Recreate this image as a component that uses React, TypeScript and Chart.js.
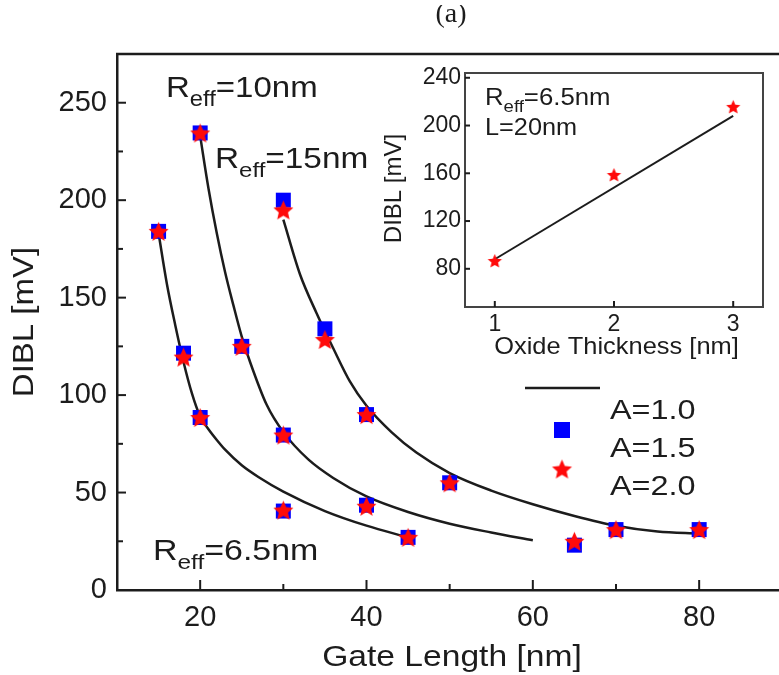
import React, { useEffect, useRef } from "react";
import { Chart, registerables } from "chart.js";

Chart.register(...registerables);

const FONT = "'Liberation Sans', Arial, Helvetica, sans-serif";
const SERIF = "'Liberation Serif', 'Times New Roman', serif";
const INK = "#1c1c1c";
const BLUE = "#0000ff";
const RED = "#ff0a0a";

// ---- main panel: DIBL [mV] versus gate length [nm] ----
const xTickLabels = [20, 40, 60, 80];
const yTickLabels = [0, 50, 100, 150, 200, 250];

// R_eff = 6.5 nm
const lengths65 = [15, 18, 20, 30, 45];
const dibl65A15 = [184, 121.5, 88.5, 40.5, 27];
const dibl65A20 = [184, 119.5, 88.5, 41, 27];
// R_eff = 10 nm
const lengths10 = [20, 25, 30, 40, 65];
const dibl10A15 = [234.5, 125, 79.5, 43.5, 23];
const dibl10A20 = [234.5, 125, 79.5, 43, 25];
// R_eff = 15 nm
const lengths15 = [30, 35, 40, 50, 70, 80];
const dibl15A15 = [200, 134, 90, 55, 31, 31];
const dibl15A20 = [195, 128.5, 90, 55, 31, 31];

// A = 1.0 model curves
const curve65L = [15, 16, 17, 18, 19, 20, 21, 22, 23, 25, 27, 30, 35, 40, 45];
const curve65D = [183, 157, 136, 117, 101, 89, 82.5, 77, 72, 64, 58, 50.5, 40.5, 33, 27];
const curve10L = [20, 21, 22, 23, 24, 25, 26, 28, 30, 33, 36, 40, 45, 50, 55, 60];
const curve10D = [233, 206, 183, 163, 146, 130, 117, 95, 81, 67, 57.5, 48, 40, 34, 29.5, 25.5];
const curve15L = [30, 32, 34, 36, 38, 40, 43, 46, 50, 55, 60, 65, 70, 75, 80];
const curve15D = [190, 162, 142, 124, 107, 94.5, 81, 70.5, 60, 51, 44, 38, 33, 30, 29];

// ---- inset: DIBL versus oxide thickness (R_eff = 6.5 nm, L = 20 nm) ----
const oxideTicks = [1, 2, 3];
const insetYTicks = [80, 120, 160, 200, 240];
const oxideT = [1, 2, 3];
const oxideDibl = [87, 159, 216];
const oxideFitT = [1, 3];
const oxideFitD = [88, 208];

const pts = (xs: number[], ys: number[]) => xs.map((x, i) => ({ x, y: ys[i] }));

function starCanvas(outer: number, color: string) {
  const inner = outer * 0.46;
  const size = Math.ceil(outer * 2 + 2);
  const c = document.createElement("canvas");
  c.width = size;
  c.height = size;
  const g = c.getContext("2d")!;
  g.fillStyle = color;
  g.beginPath();
  for (let i = 0; i < 10; i++) {
    const r = i % 2 === 0 ? outer : inner;
    const a = -Math.PI / 2 + (i * Math.PI) / 5;
    const px = size / 2 + r * Math.cos(a);
    const py = size / 2 + 1 + r * Math.sin(a);
    if (i === 0) g.moveTo(px, py);
    else g.lineTo(px, py);
  }
  g.closePath();
  g.fill();
  return c;
}

type TextOpt = {
  align?: CanvasTextAlign;
  baseline?: CanvasTextBaseline;
  sx?: number;
  rot?: number;
  family?: string;
};

function text(ctx: CanvasRenderingContext2D, s: string, x: number, y: number, size: number, o: TextOpt = {}) {
  ctx.save();
  ctx.translate(x, y);
  if (o.rot) ctx.rotate(o.rot);
  ctx.scale(o.sx ?? 1, 1);
  ctx.font = `${size}px ${o.family ?? FONT}`;
  ctx.textAlign = o.align ?? "left";
  ctx.textBaseline = o.baseline ?? "alphabetic";
  ctx.fillStyle = INK;
  ctx.fillText(s, 0, 0);
  ctx.restore();
}

// "R" with subscript "eff" followed by the rest of the label
function reff(ctx: CanvasRenderingContext2D, x: number, y: number, size: number, rest: string, sx: number) {
  ctx.save();
  ctx.translate(x, y);
  ctx.scale(sx, 1);
  ctx.fillStyle = INK;
  ctx.textAlign = "left";
  ctx.textBaseline = "alphabetic";
  ctx.font = `${size}px ${FONT}`;
  ctx.fillText("R", 0, 0);
  let w = ctx.measureText("R").width;
  ctx.font = `${size * 0.72}px ${FONT}`;
  ctx.fillText("eff", w, size * 0.3);
  w += ctx.measureText("eff").width;
  ctx.font = `${size}px ${FONT}`;
  ctx.fillText(rest, w, 0);
  ctx.restore();
}

function seg(ctx: CanvasRenderingContext2D, x1: number, y1: number, x2: number, y2: number) {
  ctx.beginPath();
  ctx.moveTo(x1, y1);
  ctx.lineTo(x2, y2);
  ctx.stroke();
}

export default function App() {
  const mainRef = useRef<HTMLCanvasElement>(null);
  const insetRef = useRef<HTMLCanvasElement>(null);

  useEffect(() => {
    const bigStar = starCanvas(10.5, RED);
    const smallStar = starCanvas(7.5, RED);

    const curveStyle = {
      showLine: true,
      borderColor: INK,
      borderWidth: 2.5,
      pointRadius: 0,
      cubicInterpolationMode: "monotone" as const,
      order: 3,
    };
    const squareStyle = {
      pointStyle: "rect" as const,
      pointRadius: 10.6,
      backgroundColor: BLUE,
      borderWidth: 0,
      order: 2,
    };
    const starStyle = {
      pointStyle: bigStar as any,
      pointRadius: 10,
      order: 1,
    };

    const mainPlugin = {
      id: "mainDecor",
      beforeDraw(chart: any) {
        const ctx = chart.ctx as CanvasRenderingContext2D;
        ctx.save();
        ctx.fillStyle = "#ffffff";
        ctx.fillRect(0, 0, chart.width, chart.height);
        ctx.restore();
      },
      afterDraw(chart: any) {
        const ctx = chart.ctx as CanvasRenderingContext2D;
        const a = chart.chartArea;
        const xs = chart.scales.x;
        const ys = chart.scales.y;
        ctx.save();
        ctx.strokeStyle = INK;
        ctx.lineWidth = 2.5;
        seg(ctx, a.left - 1, a.top, a.right, a.top);
        ctx.lineWidth = 2;
        ys.ticks.forEach((t: any) => {
          if (t.value <= 0 || t.value >= 275) return;
          const p = ys.getPixelForValue(t.value);
          seg(ctx, a.left, p, a.left + (t.value % 50 === 0 ? 9 : 6), p);
        });
        xs.ticks.forEach((t: any) => {
          if (t.value <= 10) return;
          const p = xs.getPixelForValue(t.value);
          seg(ctx, p, a.bottom, p, a.bottom - (t.value % 20 === 0 ? 10 : 6));
        });

        // curve labels
        reff(ctx, 166, 97, 30, "=10nm", 1.1);
        reff(ctx, 215, 168, 29, "=15nm", 1.15);
        reff(ctx, 153, 560, 29, "=6.5nm", 1.17);

        // legend
        ctx.lineWidth = 2.5;
        seg(ctx, 525, 388, 600, 388);
        ctx.fillStyle = BLUE;
        ctx.fillRect(562 - 8, 430 - 8, 16, 16);
        ctx.drawImage(bigStar, 562 - bigStar.width / 2, 469 - bigStar.height / 2);
        text(ctx, "A=1.0", 610, 412, 27, { baseline: "middle", sx: 1.2 });
        text(ctx, "A=1.5", 610, 450, 27, { baseline: "middle", sx: 1.2 });
        text(ctx, "A=2.0", 610, 488, 27, { baseline: "middle", sx: 1.2 });

        // axis titles
        text(ctx, "Gate Length [nm]", 452, 666, 30, { align: "center", sx: 1.12 });
        text(ctx, "DIBL [mV]", 25, 322, 30, { align: "center", baseline: "middle", sx: 1.1, rot: -Math.PI / 2 });

        // panel tag, its top trimmed by the page strip
        text(ctx, "(a)", 451, 22, 28, { align: "center", family: SERIF });
        ctx.fillStyle = "#ffffff";
        ctx.fillRect(0, 0, chart.width, 5);
        ctx.restore();
      },
    };

    const main = new Chart(mainRef.current!, {
      type: "scatter",
      data: {
        datasets: [
          { ...curveStyle, data: pts(curve65L, curve65D) },
          { ...curveStyle, data: pts(curve10L, curve10D) },
          { ...curveStyle, data: pts(curve15L, curve15D) },
          {
            ...squareStyle,
            data: [...pts(lengths65, dibl65A15), ...pts(lengths10, dibl10A15), ...pts(lengths15, dibl15A15)],
          },
          {
            ...starStyle,
            data: [...pts(lengths65, dibl65A20), ...pts(lengths10, dibl10A20), ...pts(lengths15, dibl15A20)],
          },
        ],
      },
      options: {
        animation: false,
        responsive: false,
        maintainAspectRatio: false,
        events: [],
        layout: { autoPadding: false, padding: { top: 54, left: 0, right: 0, bottom: 0 } },
        plugins: { legend: { display: false }, tooltip: { enabled: false } },
        scales: {
          x: {
            type: "linear",
            min: 10,
            max: 89.6,
            grid: { display: false, drawTicks: false },
            border: { display: true, color: INK, width: 2.5 },
            ticks: {
              stepSize: 10,
              includeBounds: false,
              autoSkip: false,
              maxRotation: 0,
              padding: 11,
              color: INK,
              font: { family: FONT, size: 29 },
              callback: (v: any) => (xTickLabels.includes(Number(v)) ? String(v) : ""),
            },
            afterFit: (s: any) => {
              s.height = 85;
              s.paddingLeft = 0;
              s.paddingRight = 0;
            },
          },
          y: {
            type: "linear",
            min: 0,
            max: 275,
            grid: { display: false, drawTicks: false },
            border: { display: true, color: INK, width: 2.5 },
            ticks: {
              stepSize: 25,
              autoSkip: false,
              padding: 10,
              color: INK,
              font: { family: FONT, size: 29 },
              callback: (v: any) => (yTickLabels.includes(Number(v)) ? String(v) : ""),
            },
            afterFit: (s: any) => {
              s.width = 117;
              s.paddingTop = 0;
              s.paddingBottom = 0;
            },
          },
        },
      },
      plugins: [mainPlugin],
    });

    const insetPlugin = {
      id: "insetDecor",
      beforeDraw(chart: any) {
        const ctx = chart.ctx as CanvasRenderingContext2D;
        const a = chart.chartArea;
        ctx.save();
        ctx.fillStyle = "#ffffff";
        ctx.fillRect(a.left, a.top, a.right - a.left, a.bottom - a.top);
        ctx.restore();
      },
      afterDraw(chart: any) {
        const ctx = chart.ctx as CanvasRenderingContext2D;
        const a = chart.chartArea;
        const xs = chart.scales.x;
        const ys = chart.scales.y;
        ctx.save();
        ctx.strokeStyle = "#444";
        ctx.lineWidth = 2;
        seg(ctx, a.left - 1, a.top, a.right + 1, a.top);
        seg(ctx, a.right, a.top, a.right, a.bottom);
        ctx.strokeStyle = INK;
        ys.ticks.forEach((t: any) => {
          const p = ys.getPixelForValue(t.value);
          seg(ctx, a.left, p, a.left + 5, p);
        });
        xs.ticks.forEach((t: any) => {
          const p = xs.getPixelForValue(t.value);
          seg(ctx, p, a.bottom, p, a.bottom - 6);
        });
        reff(ctx, 105, 45, 23, "=6.5nm", 1.12);
        text(ctx, "L=20nm", 105, 75, 23, { sx: 1.1 });
        text(ctx, "Oxide Thickness [nm]", 236.5, 294, 24, { align: "center", sx: 1.06 });
        text(ctx, "DIBL [mV]", 14, 128.5, 24, { align: "center", baseline: "middle", rot: -Math.PI / 2 });
        ctx.restore();
      },
    };

    const inset = new Chart(insetRef.current!, {
      type: "scatter",
      data: {
        datasets: [
          {
            showLine: true,
            borderColor: INK,
            borderWidth: 2,
            pointRadius: 0,
            order: 2,
            data: pts(oxideFitT, oxideFitD),
          },
          {
            pointStyle: smallStar as any,
            pointRadius: 8,
            order: 1,
            data: pts(oxideT, oxideDibl),
          },
        ],
      },
      options: {
        animation: false,
        responsive: false,
        maintainAspectRatio: false,
        events: [],
        layout: { autoPadding: false, padding: { top: 13, right: 16, left: 0, bottom: 0 } },
        plugins: { legend: { display: false }, tooltip: { enabled: false } },
        scales: {
          x: {
            type: "linear",
            min: 0.75,
            max: 3.25,
            grid: { display: false, drawTicks: false },
            border: { display: true, color: "#444", width: 2 },
            ticks: {
              stepSize: 1,
              includeBounds: false,
              autoSkip: false,
              maxRotation: 0,
              padding: 4,
              color: INK,
              font: { family: FONT, size: 23 },
              callback: (v: any) => (oxideTicks.includes(Number(v)) ? String(v) : ""),
            },
            afterFit: (s: any) => {
              s.height = 63;
              s.paddingLeft = 0;
              s.paddingRight = 0;
            },
          },
          y: {
            type: "linear",
            min: 48,
            max: 244,
            grid: { display: false, drawTicks: false },
            border: { display: true, color: "#444", width: 2 },
            ticks: {
              stepSize: 40,
              includeBounds: false,
              autoSkip: false,
              padding: 4,
              color: INK,
              font: { family: FONT, size: 23 },
              callback: (v: any) => (insetYTicks.includes(Number(v)) ? String(v) : ""),
            },
            afterFit: (s: any) => {
              s.width = 85;
              s.paddingTop = 0;
              s.paddingBottom = 0;
            },
          },
        },
      },
      plugins: [insetPlugin],
    });

    return () => {
      main.destroy();
      inset.destroy();
    };
  }, []);

  return (
    <div style={{ position: "absolute", left: 0, top: 0, width: 779, height: 675, overflow: "hidden", background: "#fff" }}>
      <canvas ref={mainRef} width={779} height={675} style={{ position: "absolute", left: 0, top: 0, width: 779, height: 675 }} />
      <canvas ref={insetRef} width={399} height={310} style={{ position: "absolute", left: 380, top: 60, width: 399, height: 310 }} />
    </div>
  );
}
